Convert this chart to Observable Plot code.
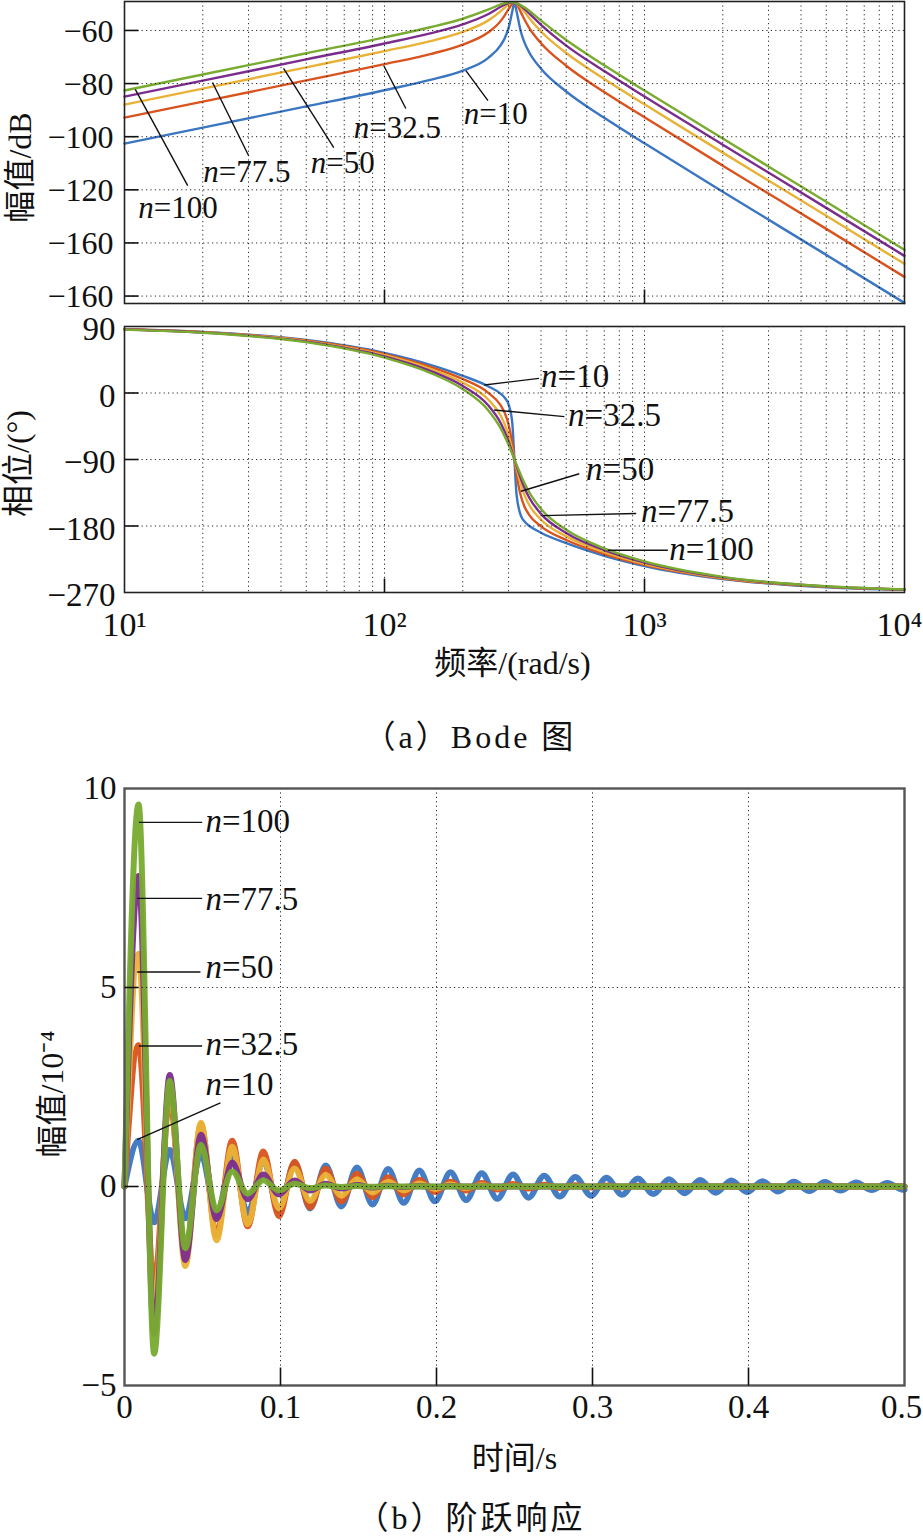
<!DOCTYPE html>
<html>
<head>
<meta charset="utf-8">
<script src="https://cdn.jsdelivr.net/npm/d3@7"></script>
<script src="https://cdn.jsdelivr.net/npm/@observablehq/plot@0.6"></script>
<style>
html,body{margin:0;padding:0;background:#fff;}
#root{position:relative;width:923px;height:1536px;overflow:hidden;background:#fff;font-family:"Liberation Serif","Noto Sans CJK SC",serif;color:#111;}
#root svg{position:absolute;left:0;}
.cap{position:absolute;transform:translateX(-50%);white-space:nowrap;font-size:32px;letter-spacing:3px;line-height:1;color:#111;}
</style>
</head>
<body>
<div id="root">
<div class="cap" style="left:470px;top:721px;">（a）Bode 图</div>
<div class="cap" style="left:471px;top:1502px;">（b）阶跃响应</div>
</div>
<script>
// ---------- data ----------
const seriesNames = ["n=10", "n=32.5", "n=50", "n=77.5", "n=100"];
const seriesColors = ["#3b76c2", "#d9531e", "#e9b236", "#7b2d8e", "#78ab30"];

// frequency (rad/s)
const freq = [10, 20, 50, 100, 150, 200, 250, 280, 290, 300, 310, 316, 322, 335, 345, 360, 400, 500, 700, 1000, 2000, 5000, 10000];

// magnitude (dB)
const magN10   = [-102.6, -96.6, -88.6, -82.5, -78.6, -75.1, -70.4, -65.5, -62.9, -59.1, -52.9, -49.5, -52.8, -60.7, -64.4, -68.2, -74.4, -83.0, -92.9, -102.5, -120.7, -144.5, -162.6];
const magN32_5 = [-92.8, -86.8, -78.8, -72.7, -68.9, -65.3, -60.8, -56.4, -54.3, -52.0, -49.9, -49.5, -50.1, -53.3, -55.8, -59.0, -64.8, -73.3, -83.2, -92.7, -110.9, -134.7, -152.8];
const magN50   = [-87.9, -81.9, -73.9, -67.8, -64.0, -60.5, -56.3, -52.7, -51.4, -50.2, -49.5, -49.5, -49.8, -51.4, -52.9, -55.3, -60.4, -68.5, -78.3, -87.8, -106.0, -129.8, -147.9];
const magN77_5 = [-84.9, -78.9, -70.9, -64.9, -61.1, -57.7, -53.9, -51.1, -50.3, -49.7, -49.5, -49.6, -49.8, -50.8, -51.9, -53.6, -57.9, -65.7, -75.3, -84.9, -103.0, -126.8, -144.9];
const magN100  = [-82.6, -76.6, -68.6, -62.6, -58.8, -55.6, -52.2, -50.2, -49.7, -49.4, -49.4, -49.5, -49.7, -50.5, -51.3, -52.6, -56.3, -63.6, -73.1, -82.6, -100.7, -124.5, -142.6];

// phase (deg)
const phN10   = [86.3, 82.7, 71.7, 54.2, 38.1, 23.3, 9.2, -1.2, -6.5, -15.4, -40.2, -90, -137.1, -166.4, -173.6, -179.7, -189.1, -203.3, -220.3, -234.2, -251.8, -262.8, -266.4];
const phN32_5 = [86.2, 82.4, 71.0, 52.7, 35.5, 18.9, 0.6, -16.9, -26.9, -42.7, -68.7, -90, -109.6, -140.1, -153.2, -164.9, -180.5, -198.9, -217.9, -232.7, -251.0, -262.4, -266.2];
const phN50   = [86.1, 82.1, 70.2, 51.1, 32.7, 14.1, -8.4, -30.9, -42.6, -57.9, -77.1, -90, -101.8, -124.5, -137.5, -151.3, -171.5, -194.1, -215.2, -231.1, -250.2, -262.1, -266.1];
const phN77_5 = [85.9, 81.8, 69.5, 49.5, 29.9, 9.5, -16.3, -40.9, -52.3, -65.7, -80.5, -90, -98.7, -116.4, -127.8, -141.4, -163.6, -189.5, -212.7, -229.5, -249.5, -261.8, -265.9];
const phN100  = [85.8, 81.5, 68.8, 47.9, 27.2, 5.2, -23.0, -48.1, -58.7, -70.2, -82.4, -90, -96.9, -111.5, -121.5, -134.0, -156.9, -185.2, -210.2, -227.9, -248.8, -261.5, -265.8];

// step response time (s) and amplitude (1e-4)
const stepTime = [
  0, 0.009, 0.019, 0.029, 0.039, 0.049, 0.059, 0.069, 0.079, 0.089,
  0.099, 0.109, 0.119, 0.129, 0.139, 0.149, 0.159, 0.169, 0.179, 0.189,
  0.199, 0.209, 0.219, 0.229, 0.239, 0.249, 0.259, 0.269, 0.279, 0.289,
  0.299, 0.309, 0.319, 0.329, 0.339, 0.349, 0.359, 0.369, 0.379, 0.389,
  0.399, 0.409, 0.419, 0.429, 0.439, 0.449, 0.459, 0.469, 0.479, 0.489,
  0.499, 0.5];
const stepN10 = [
  0, 1.15, -0.90, 0.92, -0.80, 0.82, -0.74, 0.72, -0.67, 0.65,
  -0.61, 0.59, -0.55, 0.53, -0.50, 0.48, -0.45, 0.44, -0.41, 0.40,
  -0.37, 0.36, -0.34, 0.33, -0.31, 0.30, -0.28, 0.27, -0.25, 0.24,
  -0.23, 0.22, -0.21, 0.20, -0.19, 0.18, -0.17, 0.165, -0.155, 0.15,
  -0.14, 0.135, -0.125, 0.12, -0.115, 0.11, -0.10, 0.10, -0.09, 0.09,
  -0.08, -0.078];
const stepN32_5 = [
  0, 3.55, -2.45, 2.2, -1.75, 1.55, -1.25, 1.15, -1.0, 0.88,
  -0.75, 0.62, -0.53, 0.45, -0.38, 0.32, -0.27, 0.23, -0.2, 0.17,
  -0.14, 0.12, -0.1, 0.087, -0.074, 0.063, -0.053, 0.045, -0.038, 0.032,
  -0.027, 0.023, -0.02, 0.017, -0.014, 0.012, -0.01, 0.008, -0.007, 0.006,
  -0.005, 0.004, -0.004, 0.003, -0.003, 0.002, -0.002, 0.002, -0.001, 0.001,
  -0.001, 0];
const stepN50 = [
  0, 5.85, -3.1, 2.5, -2.0, 1.6, -1.35, 1.0, -0.95, 0.68,
  -0.55, 0.45, -0.36, 0.29, -0.23, 0.18, -0.15, 0.12, -0.095, 0.075,
  -0.06, 0.048, -0.038, 0.03, -0.024, 0.019, -0.015, 0.012, -0.01, 0.008,
  -0.006, 0.005, -0.004, 0.003, -0.003, 0.002, -0.002, 0.001, -0.001, 0.001,
  -0.001, 0, 0, 0, 0, 0, 0, 0, 0, 0,
  0, 0];
const stepN77_5 = [
  0, 7.8, -3.7, 2.8, -1.85, 1.3, -0.82, 0.6, -0.32, 0.3,
  -0.2, 0.15, -0.1, 0.07, -0.05, 0.035, -0.025, 0.017, -0.012, 0.008,
  -0.006, 0.004, -0.003, 0.002, -0.001, 0.001, 0, 0, 0, 0,
  0, 0, 0, 0, 0, 0, 0, 0, 0, 0,
  0, 0, 0, 0, 0, 0, 0, 0, 0, 0,
  0, 0];
const stepN100 = [
  0, 9.6, -4.2, 2.65, -1.55, 1.05, -0.6, 0.38, -0.18, 0.16,
  -0.1, 0.07, -0.04, 0.025, -0.015, 0.01, -0.006, 0.004, -0.002, 0.001,
  0, 0, 0, 0, 0, 0, 0, 0, 0, 0,
  0, 0, 0, 0, 0, 0, 0, 0, 0, 0,
  0, 0, 0, 0, 0, 0, 0, 0, 0, 0,
  0, 0];

// ticks
const magTickValues = [-60, -80, -100, -120, -140, -160];
const magTickLabels = ["−60", "−80", "−100", "−120", "−160", "−160"];
const phaseTickValues = [90, 0, -90, -180, -270];
const phaseTickLabels = ["90", "0", "−90", "−180", "−270"];
const freqTickValues = [10, 100, 1000, 10000];
const freqTickLabels = ["10¹", "10²", "10³", "10⁴"];
const freqGrid = [20, 30, 40, 50, 60, 70, 80, 90, 100, 200, 300, 400, 500, 600, 700, 800, 900, 1000, 2000, 3000, 4000, 5000, 6000, 7000, 8000, 9000];
const stepTickX = [0, 0.1, 0.2, 0.3, 0.4, 0.5];
const stepTickXLabels = ["0", "0.1", "0.2", "0.3", "0.4", "0.5"];
const stepTickY = [-5, 0, 5, 10];
const stepTickYLabels = ["−5", "0", "5", "10"];

// annotations (data coordinates)
const magLabelFreq = [201.8, 76.2, 52.0, 20.1, 11.3];
const magLabelDb = [-91.3, -96.9, -110.1, -113.3, -126.8];
const magLeadFreq1 = [205.6, 99.3, 40.9, 21.8, 11.0];
const magLeadDb1 = [-75.1, -73.2, -74.3, -79.6, -82.2];
const magLeadFreq2 = [250, 120.8, 63.8, 30.0, 17.5];
const magLeadDb2 = [-86.4, -89.4, -104.1, -107.1, -118.4];

const phLabelFreq = [400, 508, 596, 970, 1245];
const phLabelDeg = [22.0, -31.0, -103.0, -160.2, -211.9];
const phLeadFreq1 = [242, 264, 335, 405, 722];
const phLeadDeg1 = [10.8, -23, -133, -166, -212.8];
const phLeadFreq2 = [393, 492, 561, 929, 1230];
const phLeadDeg2 = [19.8, -32, -109.3, -163, -212.8];

const stLabelTime = [0.0519, 0.0519, 0.0519, 0.0519, 0.0519];
const stLabelVal = [2.56, 3.57, 5.5, 7.22, 9.18];
const stLeadTime1 = [0.0081, 0.0092, 0.0081, 0.0081, 0.0092];
const stLeadVal1 = [1.18, 3.53, 5.39, 7.24, 9.15];
const stLeadTime2 = [0.0615, 0.0498, 0.0487, 0.0498, 0.0498];
const stLeadVal2 = [2.1, 3.53, 5.39, 7.24, 9.15];

// ---------- helpers ----------
const FONT = '"Liberation Serif","Noto Sans CJK SC",serif';
const mags = [magN10, magN32_5, magN50, magN77_5, magN100];
const phases = [phN10, phN32_5, phN50, phN77_5, phN100];
const steps = [stepN10, stepN32_5, stepN50, stepN77_5, stepN100];
const rows = (xs, ys) => xs.map((x, i) => ({x, y: ys[i]}));
const labelRows = (xs, ys) => xs.map((x, i) => ({x, y: ys[i], t: seriesNames[i]}));
const leadRows = (a, b, c, d) => a.map((x1, i) => ({x1, y1: b[i], x2: c[i], y2: d[i]}));
const mapOf = (v, l) => new Map(v.map((d, i) => [d, l[i]]));

const tickRight = {draw(c) { c.moveTo(0, 0); c.lineTo(14, 0); }};
const tickUp = {draw(c) { c.moveTo(0, 0); c.lineTo(0, -14); }};
const tickUpLong = {draw(c) { c.moveTo(0, 0); c.lineTo(0, -18); }};
const gridStyle = {stroke: "#000", strokeWidth: 1, strokeDasharray: "1.2,3.2", strokeOpacity: 0.85};
const tickStyle = {stroke: "#111", strokeWidth: 1.6, fill: "none"};
const style = {fontFamily: FONT, fontSize: "33px", color: "#111", background: "transparent"};

function italicN(svg) {
  svg.querySelectorAll("text").forEach(t => {
    const s = t.textContent;
    if (/^n=/.test(s) && t.children.length === 0) {
      t.textContent = "";
      const ts = document.createElementNS("http://www.w3.org/2000/svg", "tspan");
      ts.setAttribute("font-style", "italic");
      ts.textContent = "n";
      t.appendChild(ts);
      t.appendChild(document.createTextNode(s.slice(1)));
    }
  });
}

function annot(labels, leads, fs) {
  return [
    Plot.link(leads, {x1: "x1", y1: "y1", x2: "x2", y2: "y2", stroke: "#111", strokeWidth: 1.4}),
    Plot.text(labels, {x: "x", y: "y", text: "t", textAnchor: "start", lineAnchor: "middle", fontSize: fs, fill: "#111"})
  ];
}
function yLabel(txt, dx, dy) {
  return Plot.text([txt], {text: d => d, frameAnchor: "left", textAnchor: "middle", lineAnchor: "middle", rotate: -90, dx, dy, fontSize: 32});
}
function xLabel(txt, dx, dy) {
  return Plot.text([txt], {text: d => d, frameAnchor: "bottom", textAnchor: "middle", lineAnchor: "middle", dx, dy, fontSize: 32});
}

const root = document.getElementById("root");

// ---------- panel 1: magnitude ----------
const magMap = mapOf(magTickValues, magTickLabels);
const p1 = Plot.plot({
  width: 923, height: 313, marginTop: 1, marginBottom: 10, marginLeft: 124, marginRight: 19,
  style,
  x: {type: "log", domain: [10, 10000], axis: null, label: null},
  y: {domain: [-162.8, -49.1], label: null},
  marks: [
    ...mags.map((m, i) => Plot.line(rows(freq, m), {x: "x", y: "y", stroke: seriesColors[i], strokeWidth: 2.4, curve: "monotone-x"})),
    Plot.ruleX(freqGrid, gridStyle),
    Plot.ruleY(magTickValues, gridStyle),
    Plot.frame({stroke: "#222", strokeWidth: 1.6}),
    Plot.dot(magTickValues, {y: d => d, frameAnchor: "left", symbol: tickRight, ...tickStyle}),
    Plot.dot([100, 1000], {x: d => d, frameAnchor: "bottom", symbol: tickUp, ...tickStyle}),
    Plot.axisY(magTickValues, {tickSize: 0, tickPadding: 11, tickFormat: d => magMap.get(d), fontSize: 32, dy: 1, label: null}),
    yLabel("幅值/dB", -104, 15),
    ...annot(labelRows(magLabelFreq, magLabelDb), leadRows(magLeadFreq1, magLeadDb1, magLeadFreq2, magLeadDb2), 31)
  ]
});
p1.style.top = "0px";
root.appendChild(p1);

// ---------- panel 2: phase ----------
const phMap = mapOf(phaseTickValues, phaseTickLabels);
const fMap = mapOf(freqTickValues, freqTickLabels);
const p2 = Plot.plot({
  width: 923, height: 386, marginTop: 20, marginBottom: 100, marginLeft: 124, marginRight: 19,
  style,
  x: {type: "log", domain: [10, 10000], label: null},
  y: {domain: [-270, 90], label: null},
  marks: [
    ...phases.map((m, i) => Plot.line(rows(freq, m), {x: "x", y: "y", stroke: seriesColors[i], strokeWidth: 2.4, curve: "monotone-x"})),
    Plot.ruleX(freqGrid, gridStyle),
    Plot.ruleY([0, -90, -180], gridStyle),
    Plot.frame({stroke: "#222", strokeWidth: 1.6}),
    Plot.dot([0, -90, -180], {y: d => d, frameAnchor: "left", symbol: tickRight, ...tickStyle}),
    Plot.dot([100, 1000], {x: d => d, frameAnchor: "bottom", symbol: tickUp, ...tickStyle}),
    Plot.axisY(phaseTickValues, {tickSize: 0, tickPadding: 9, tickFormat: d => phMap.get(d), fontSize: 33, dy: 3, label: null}),
    Plot.axisX(freqTickValues.slice(0, 3), {tickSize: 0, tickPadding: 19, tickFormat: d => fMap.get(d), fontSize: 34, label: null}),
    Plot.axisX(freqTickValues.slice(3), {tickSize: 0, tickPadding: 19, tickFormat: d => fMap.get(d), fontSize: 34, dx: -5, label: null}),
    yLabel("相位/(°)", -106, 4),
    xLabel("频率/(rad/s)", -2, 71),
    ...annot(labelRows(phLabelFreq, phLabelDeg), leadRows(phLeadFreq1, phLeadDeg1, phLeadFreq2, phLeadDeg2), 33)
  ]
});
p2.style.top = "306px";
root.appendChild(p2);

// ---------- panel 3: step response ----------
const sxMap = mapOf(stepTickX, stepTickXLabels);
const syMap = mapOf(stepTickY, stepTickYLabels);
const p3 = Plot.plot({
  width: 923, height: 725, marginTop: 18, marginBottom: 110, marginLeft: 124, marginRight: 19,
  style,
  x: {domain: [0, 0.5], label: null},
  y: {domain: [-5, 10], label: null},
  marks: [
    ...steps.map((m, i) => Plot.line(rows(stepTime, m), {x: "x", y: "y", stroke: seriesColors[i], strokeWidth: 6, curve: "monotone-x", strokeOpacity: 0.95})),
    Plot.ruleX([0.1, 0.2, 0.3, 0.4], gridStyle),
    Plot.ruleY([0, 5], gridStyle),
    Plot.frame({stroke: "#555", strokeWidth: 2.4}),
    Plot.dot([0, 5], {y: d => d, frameAnchor: "left", symbol: tickRight, ...tickStyle}),
    Plot.dot([0.1, 0.2, 0.3, 0.4], {x: d => d, frameAnchor: "bottom", symbol: tickUpLong, ...tickStyle}),
    Plot.axisY(stepTickY, {tickSize: 0, tickPadding: 8, tickFormat: d => syMap.get(d), fontSize: 33, label: null}),
    Plot.axisX(stepTickX.slice(0, 5), {tickSize: 0, tickPadding: 9, tickFormat: d => sxMap.get(d), fontSize: 33, label: null}),
    Plot.axisX(stepTickX.slice(5), {tickSize: 0, tickPadding: 9, tickFormat: d => sxMap.get(d), fontSize: 33, dx: -3, label: null}),
    yLabel("幅值/10⁻⁴", -72, 7),
    xLabel("时间/s", 0, 73),
    ...annot(labelRows(stLabelTime, stLabelVal), leadRows(stLeadTime1, stLeadVal1, stLeadTime2, stLeadVal2), 33)
  ]
});
p3.style.top = "770px";
root.appendChild(p3);

[p1, p2, p3].forEach(italicN);
</script>
</body>
</html>
